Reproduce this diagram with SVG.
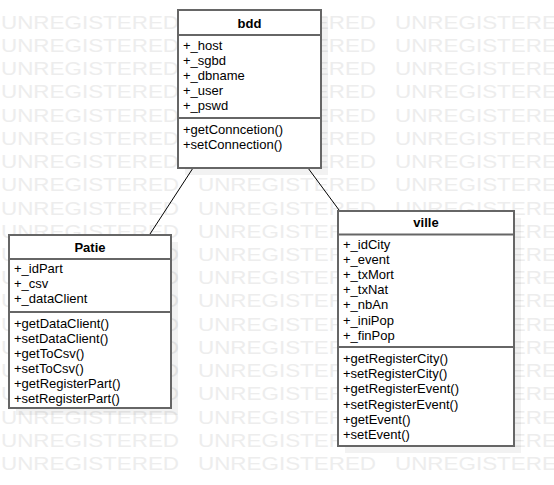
<svg xmlns="http://www.w3.org/2000/svg" width="554" height="485" viewBox="0 0 554 485">
<style>
.wm{font-family:"Liberation Sans",Arial,sans-serif;font-size:18px;fill:#ededed}
.box{fill:#fff;stroke:#666;stroke-width:2}
.shadow{fill:#000;opacity:0.05}
.sep{stroke:#666;stroke-width:2}
.t{font-family:"Liberation Sans",Arial,sans-serif;font-size:13px;fill:#000}
.h{font-family:"Liberation Sans",Arial,sans-serif;font-size:13px;font-weight:bold;fill:#000;text-anchor:middle}
.conn{stroke:#000;stroke-width:1;fill:none}
</style>
<rect width="554" height="485" fill="#fff"/>
<g id="watermark">
<text class="wm" x="1" y="29" textLength="178" lengthAdjust="spacingAndGlyphs">UNREGISTERED</text><text class="wm" x="198" y="29" textLength="178" lengthAdjust="spacingAndGlyphs">UNREGISTERED</text><text class="wm" x="395" y="29" textLength="178" lengthAdjust="spacingAndGlyphs">UNREGISTERED</text>
<text class="wm" x="1" y="52" textLength="178" lengthAdjust="spacingAndGlyphs">UNREGISTERED</text><text class="wm" x="198" y="52" textLength="178" lengthAdjust="spacingAndGlyphs">UNREGISTERED</text><text class="wm" x="395" y="52" textLength="178" lengthAdjust="spacingAndGlyphs">UNREGISTERED</text>
<text class="wm" x="1" y="75" textLength="178" lengthAdjust="spacingAndGlyphs">UNREGISTERED</text><text class="wm" x="198" y="75" textLength="178" lengthAdjust="spacingAndGlyphs">UNREGISTERED</text><text class="wm" x="395" y="75" textLength="178" lengthAdjust="spacingAndGlyphs">UNREGISTERED</text>
<text class="wm" x="1" y="98" textLength="178" lengthAdjust="spacingAndGlyphs">UNREGISTERED</text><text class="wm" x="198" y="98" textLength="178" lengthAdjust="spacingAndGlyphs">UNREGISTERED</text><text class="wm" x="395" y="98" textLength="178" lengthAdjust="spacingAndGlyphs">UNREGISTERED</text>
<text class="wm" x="1" y="122" textLength="178" lengthAdjust="spacingAndGlyphs">UNREGISTERED</text><text class="wm" x="198" y="122" textLength="178" lengthAdjust="spacingAndGlyphs">UNREGISTERED</text><text class="wm" x="395" y="122" textLength="178" lengthAdjust="spacingAndGlyphs">UNREGISTERED</text>
<text class="wm" x="1" y="145" textLength="178" lengthAdjust="spacingAndGlyphs">UNREGISTERED</text><text class="wm" x="198" y="145" textLength="178" lengthAdjust="spacingAndGlyphs">UNREGISTERED</text><text class="wm" x="395" y="145" textLength="178" lengthAdjust="spacingAndGlyphs">UNREGISTERED</text>
<text class="wm" x="1" y="168" textLength="178" lengthAdjust="spacingAndGlyphs">UNREGISTERED</text><text class="wm" x="198" y="168" textLength="178" lengthAdjust="spacingAndGlyphs">UNREGISTERED</text><text class="wm" x="395" y="168" textLength="178" lengthAdjust="spacingAndGlyphs">UNREGISTERED</text>
<text class="wm" x="1" y="191" textLength="178" lengthAdjust="spacingAndGlyphs">UNREGISTERED</text><text class="wm" x="198" y="191" textLength="178" lengthAdjust="spacingAndGlyphs">UNREGISTERED</text><text class="wm" x="395" y="191" textLength="178" lengthAdjust="spacingAndGlyphs">UNREGISTERED</text>
<text class="wm" x="1" y="215" textLength="178" lengthAdjust="spacingAndGlyphs">UNREGISTERED</text><text class="wm" x="198" y="215" textLength="178" lengthAdjust="spacingAndGlyphs">UNREGISTERED</text><text class="wm" x="395" y="215" textLength="178" lengthAdjust="spacingAndGlyphs">UNREGISTERED</text>
<text class="wm" x="1" y="238" textLength="178" lengthAdjust="spacingAndGlyphs">UNREGISTERED</text><text class="wm" x="198" y="238" textLength="178" lengthAdjust="spacingAndGlyphs">UNREGISTERED</text><text class="wm" x="395" y="238" textLength="178" lengthAdjust="spacingAndGlyphs">UNREGISTERED</text>
<text class="wm" x="1" y="261" textLength="178" lengthAdjust="spacingAndGlyphs">UNREGISTERED</text><text class="wm" x="198" y="261" textLength="178" lengthAdjust="spacingAndGlyphs">UNREGISTERED</text><text class="wm" x="395" y="261" textLength="178" lengthAdjust="spacingAndGlyphs">UNREGISTERED</text>
<text class="wm" x="1" y="284" textLength="178" lengthAdjust="spacingAndGlyphs">UNREGISTERED</text><text class="wm" x="198" y="284" textLength="178" lengthAdjust="spacingAndGlyphs">UNREGISTERED</text><text class="wm" x="395" y="284" textLength="178" lengthAdjust="spacingAndGlyphs">UNREGISTERED</text>
<text class="wm" x="1" y="307" textLength="178" lengthAdjust="spacingAndGlyphs">UNREGISTERED</text><text class="wm" x="198" y="307" textLength="178" lengthAdjust="spacingAndGlyphs">UNREGISTERED</text><text class="wm" x="395" y="307" textLength="178" lengthAdjust="spacingAndGlyphs">UNREGISTERED</text>
<text class="wm" x="1" y="331" textLength="178" lengthAdjust="spacingAndGlyphs">UNREGISTERED</text><text class="wm" x="198" y="331" textLength="178" lengthAdjust="spacingAndGlyphs">UNREGISTERED</text><text class="wm" x="395" y="331" textLength="178" lengthAdjust="spacingAndGlyphs">UNREGISTERED</text>
<text class="wm" x="1" y="354" textLength="178" lengthAdjust="spacingAndGlyphs">UNREGISTERED</text><text class="wm" x="198" y="354" textLength="178" lengthAdjust="spacingAndGlyphs">UNREGISTERED</text><text class="wm" x="395" y="354" textLength="178" lengthAdjust="spacingAndGlyphs">UNREGISTERED</text>
<text class="wm" x="1" y="377" textLength="178" lengthAdjust="spacingAndGlyphs">UNREGISTERED</text><text class="wm" x="198" y="377" textLength="178" lengthAdjust="spacingAndGlyphs">UNREGISTERED</text><text class="wm" x="395" y="377" textLength="178" lengthAdjust="spacingAndGlyphs">UNREGISTERED</text>
<text class="wm" x="1" y="400" textLength="178" lengthAdjust="spacingAndGlyphs">UNREGISTERED</text><text class="wm" x="198" y="400" textLength="178" lengthAdjust="spacingAndGlyphs">UNREGISTERED</text><text class="wm" x="395" y="400" textLength="178" lengthAdjust="spacingAndGlyphs">UNREGISTERED</text>
<text class="wm" x="1" y="424" textLength="178" lengthAdjust="spacingAndGlyphs">UNREGISTERED</text><text class="wm" x="198" y="424" textLength="178" lengthAdjust="spacingAndGlyphs">UNREGISTERED</text><text class="wm" x="395" y="424" textLength="178" lengthAdjust="spacingAndGlyphs">UNREGISTERED</text>
<text class="wm" x="1" y="447" textLength="178" lengthAdjust="spacingAndGlyphs">UNREGISTERED</text><text class="wm" x="198" y="447" textLength="178" lengthAdjust="spacingAndGlyphs">UNREGISTERED</text><text class="wm" x="395" y="447" textLength="178" lengthAdjust="spacingAndGlyphs">UNREGISTERED</text>
<text class="wm" x="1" y="470" textLength="178" lengthAdjust="spacingAndGlyphs">UNREGISTERED</text><text class="wm" x="198" y="470" textLength="178" lengthAdjust="spacingAndGlyphs">UNREGISTERED</text><text class="wm" x="395" y="470" textLength="178" lengthAdjust="spacingAndGlyphs">UNREGISTERED</text>
</g>
<g id="connectors">
<line class="conn" x1="193" y1="168" x2="150" y2="234"/>
<line class="conn" x1="308" y1="168" x2="339" y2="210"/>
</g>
<g id="bdd">
<rect class="shadow" x="185" y="17" width="143" height="158"/>
<rect class="box" x="178" y="10" width="143" height="158"/>
<line class="sep" x1="178" y1="35" x2="321" y2="35"/>
<line class="sep" x1="178" y1="118" x2="321" y2="118"/>
<text class="h" x="249.5" y="28">bdd</text>
<text class="t" x="183" y="50">+_host</text>
<text class="t" x="183" y="65">+_sgbd</text>
<text class="t" x="183" y="80">+_dbname</text>
<text class="t" x="183" y="95">+_user</text>
<text class="t" x="183" y="110">+_pswd</text>
<text class="t" x="183" y="134">+getConncetion()</text>
<text class="t" x="183" y="149">+setConnection()</text>
</g>
<g id="Patie">
<rect class="shadow" x="16" y="242" width="162" height="173"/>
<rect class="box" x="9" y="235" width="162" height="173"/>
<line class="sep" x1="9" y1="259" x2="171" y2="259"/>
<line class="sep" x1="9" y1="312" x2="171" y2="312"/>
<text class="h" x="90" y="252">Patie</text>
<text class="t" x="14" y="273">+_idPart</text>
<text class="t" x="14" y="288">+_csv</text>
<text class="t" x="14" y="303">+_dataClient</text>
<text class="t" x="14" y="328">+getDataClient()</text>
<text class="t" x="14" y="343">+setDataClient()</text>
<text class="t" x="14" y="358">+getToCsv()</text>
<text class="t" x="14" y="373">+setToCsv()</text>
<text class="t" x="14" y="388">+getRegisterPart()</text>
<text class="t" x="14" y="403">+setRegisterPart()</text>
</g>
<g id="ville">
<rect class="shadow" x="345" y="218" width="176" height="235"/>
<rect class="box" x="338" y="211" width="176" height="235"/>
<line class="sep" x1="338" y1="234.5" x2="514" y2="234.5"/>
<line class="sep" x1="338" y1="347" x2="514" y2="347"/>
<text class="h" x="426" y="227">ville</text>
<text class="t" x="343" y="249">+_idCity</text>
<text class="t" x="343" y="264">+_event</text>
<text class="t" x="343" y="279">+_txMort</text>
<text class="t" x="343" y="294">+_txNat</text>
<text class="t" x="343" y="309">+_nbAn</text>
<text class="t" x="343" y="325">+_iniPop</text>
<text class="t" x="343" y="340">+_finPop</text>
<text class="t" x="343" y="363">+getRegisterCity()</text>
<text class="t" x="343" y="378">+setRegisterCity()</text>
<text class="t" x="343" y="393">+getRegisterEvent()</text>
<text class="t" x="343" y="409">+setRegisterEvent()</text>
<text class="t" x="343" y="424">+getEvent()</text>
<text class="t" x="343" y="439">+setEvent()</text>
</g>
</svg>
